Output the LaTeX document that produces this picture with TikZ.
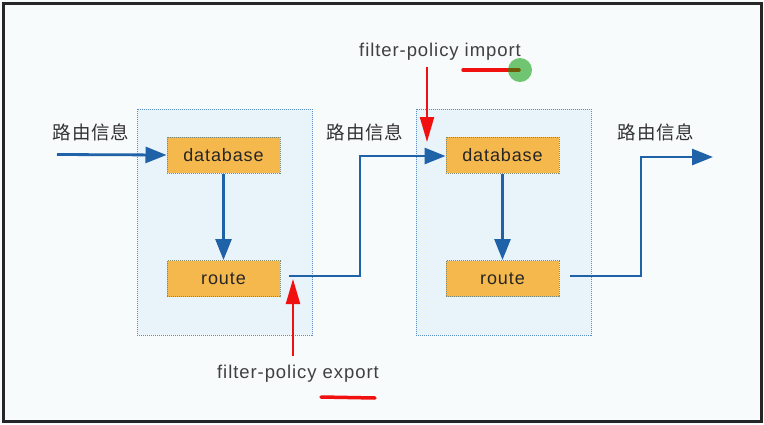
\documentclass[tikz,border=0pt]{standalone}
\usepackage{fontspec}
\setmainfont{Liberation Sans}[LetterSpace=5]
\newfontfamily\cjk{Noto Sans CJK SC}[LetterSpace=4]
\usetikzlibrary{arrows.meta}
\definecolor{flowblue}{HTML}{1F62A8}
\definecolor{boxfill}{HTML}{F5B84C}
\definecolor{boxedge}{HTML}{7A8A70}
\definecolor{contfill}{HTML}{E9F3FA}
\definecolor{contedge}{HTML}{5A8EC2}
\definecolor{bgcol}{HTML}{F8FBFB}
\definecolor{redline}{HTML}{F01010}
\tikzset{
  container/.style={draw=contedge, densely dotted, line width=1pt, fill=contfill, minimum width=175pt, minimum height=226pt, inner sep=0pt},
  procbox/.style={draw=boxedge, densely dotted, line width=1pt, fill=boxfill, minimum width=113pt, minimum height=36pt, inner sep=0pt, font=\fontsize{18}{20}\selectfont, text=black!85},
  cnlabel/.style={font=\cjk\fontsize{18.5}{20}\selectfont, text=black!80, inner sep=0pt},
  pollabel/.style={font=\fontsize{18.5}{20}\selectfont, text=black!75, inner sep=0pt},
  flow/.style={draw=flowblue, line width=2.8pt, -{Triangle[length=21pt,width=16pt]}},
  redarrow/.style={draw=redline, line width=2.2pt, -{Triangle[length=25pt,width=14pt]}},
  mark line/.style={draw=redline, line width=3.5pt, line cap=round},
}
\begin{document}
\begin{tikzpicture}[x=1pt,y=-1pt]
\useasboundingbox (0,0) rectangle (764,424);
\fill[bgcol] (0,0) rectangle (764,424);
\draw[black!85, line width=3pt] (3,3) rectangle (761,421);
% containers
\node[container] (c1) at (224.5,222) {};
\node[container] (c2) at (503.5,222) {};
% boxes
\node[procbox] (db1) at (223.5,155) {database};
\node[procbox] (rt1) at (223.5,278.5) {route};
\node[procbox] (db2) at (502.5,155) {database};
\node[procbox] (rt2) at (502.5,278.5) {route};
% labels
\node[cnlabel] (l1) at (91,132) {路由信息};
\node[cnlabel] (l2) at (365,132) {路由信息};
\node[cnlabel] (l3) at (656,132) {路由信息};
\node[pollabel] (imp) at (440,52) {filter-policy import};
\node[pollabel] (exp) at (298,374) {filter-policy export};
% coordinates
\coordinate (inL) at (57,154.5);
\coordinate (o1) at (289,276);
\coordinate (b1) at (360,276);
\coordinate (t1) at (360,156);
\coordinate (o2) at (570,276);
\coordinate (b2) at (641,276);
\coordinate (t2) at (641,157);
\coordinate (outR) at (713,157);
\coordinate (impS) at (427,67);
\coordinate (impE) at (427,142);
\coordinate (expS) at (293,356);
\coordinate (expE) at (293,279);
% blue flows
\draw[flow] (inL) -- (db1.west);
\draw[flow] (db1.south) -- (rt1.north);
\draw[flow] (db2.south) -- (rt2.north);
\draw[flow] (o1) -- (b1) -- (t1) -- (db2.west |- t1);
\draw[flow] (o2) -- (b2) -- (t2) -- (outR);
% red arrows
\draw[redarrow] (impS) -- (impE);
\draw[redarrow] (expS) -- (expE);
% marks
\draw[mark line] (463,70) -- (519,70);
\fill[green!60!black, opacity=0.55] (520,70) circle (12);
\draw[mark line] (321,397) -- (375,398);
\end{tikzpicture}
\end{document}
